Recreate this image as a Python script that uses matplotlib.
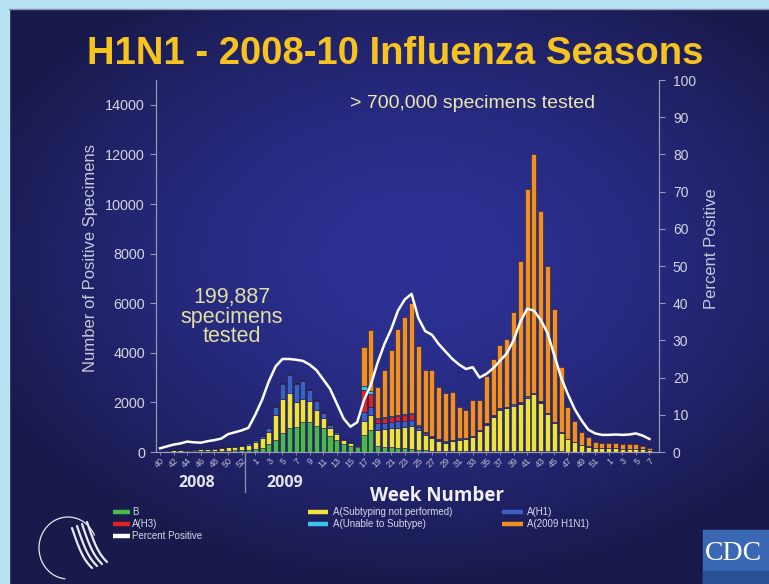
import numpy as np
import matplotlib
matplotlib.use("Agg")
import matplotlib.pyplot as plt
from matplotlib.lines import Line2D
from matplotlib.patches import Rectangle, Arc
import matplotlib.transforms as mtransforms

plt.rcParams['font.family'] = ['Liberation Sans', 'DejaVu Sans']

# ---------------- data ----------------
weeks_2008 = list(range(40, 54))
weeks_2009 = list(range(1, 53))
weeks_2010 = list(range(1, 8))
week_numbers = weeks_2008 + weeks_2009 + weeks_2010

b_vals = [15, 15, 20, 20, 25, 25, 30, 35, 40, 50, 55, 65, 75, 90, 120, 180, 330, 480, 750, 950,
          1000, 1200, 1200, 1050, 950, 650, 480, 330, 260, 200, 700, 900, 250, 220, 200, 180, 150, 130, 100, 80,
          60, 50, 40, 40, 40, 40, 40, 40, 40, 40, 40, 40, 40, 40, 40, 40, 40, 30, 30, 25,
          20, 20, 15, 15, 15, 15, 15, 15, 15, 15, 15, 10, 10]
not_subtyped_vals = [35, 45, 50, 55, 60, 70, 75, 85, 95, 110, 130, 155, 180, 210, 280, 380, 480, 1000, 1380, 1420,
                     1000, 950, 850, 650, 420, 330, 230, 140, 110, 60, 550, 600, 650, 700, 750, 800, 850, 900, 800, 600,
                     500, 400, 330, 400, 450, 480, 550, 800, 1050, 1380, 1650, 1720, 1830, 1900, 2150, 2280, 1950, 1500, 1150, 750,
                     500, 370, 250, 200, 150, 140, 130, 130, 120, 120, 110, 100, 60]
h1_vals = [10, 10, 10, 15, 15, 15, 20, 20, 25, 30, 35, 40, 45, 50, 80, 90, 140, 340, 620, 720,
           750, 710, 460, 370, 210, 120, 90, 50, 30, 20, 350, 300, 250, 250, 250, 250, 250, 250, 100, 80,
           60, 50, 40, 40, 40, 40, 40, 50, 50, 50, 50, 50, 50, 50, 50, 50, 40, 30, 30, 20,
           15, 10, 10, 10, 5, 5, 5, 5, 5, 5, 5, 0, 0]
h3_vals = [0, 0, 0, 0, 0, 0, 0, 0, 0, 0, 0, 0, 0, 10, 10, 10, 20, 30, 50, 60,
           50, 40, 40, 30, 20, 10, 10, 10, 10, 10, 900, 550, 200, 200, 220, 220, 250, 250, 50, 30,
           20, 10, 10, 10, 10, 10, 10, 10, 10, 10, 10, 10, 10, 10, 10, 10, 10, 10, 5, 5,
           5, 0, 0, 0, 0, 0, 0, 0, 0, 0, 0, 0, 0]
unable_vals = [0] * 30 + [150, 100, 30, 30, 30, 30, 30, 30, 20, 10,
                          10, 10, 5, 5, 5, 5, 5, 5, 5, 5, 5, 5, 5, 5, 5, 5, 5, 5, 5, 5,
                          0, 0, 0, 0, 0, 0, 0, 0, 0, 0, 0, 0, 0]
pdm_vals = [0] * 30 + [1600, 2470, 1250, 1900, 2660, 3490, 3910, 4440, 3200, 2500,
                       2650, 2110, 1945, 1935, 1265, 1115, 1455, 1195, 1895, 2265, 2545, 2725, 3715, 5695, 8365, 9615,
                       7665, 5935, 4540, 2605, 1260, 860, 545, 395, 250, 220, 220, 210, 200, 200, 180, 150, 80]
percent_positive = [1.0, 1.5, 2.0, 2.3, 2.8, 2.6, 2.5, 2.9, 3.2, 3.6, 4.8, 5.3, 5.8, 6.5, 10, 14, 19, 23, 25, 25,
                    24.8, 24.5, 23.5, 22, 19.5, 17, 13, 9, 6.8, 8, 14, 18, 24, 29, 33, 38, 41, 42.5, 36, 32.5,
                    31.5, 29, 27, 25, 23.5, 22.3, 22.8, 20, 21, 22.5, 24.5, 26.5, 30, 35, 38.5, 38, 35.5, 32, 26, 20,
                    15.5, 11.5, 8.5, 6, 5, 4.6, 4.6, 4.7, 4.6, 4.7, 5.0, 4.4, 3.5]

series_names = ["B", "A(Subtyping not performed)", "A(H1)", "A(H3)", "A(Unable to Subtype)", "A(2009 H1N1)"]
series_vals = [b_vals, not_subtyped_vals, h1_vals, h3_vals, unable_vals, pdm_vals]
series_colors = ["#4cb848", "#efe33a", "#3a62c4", "#dd2222", "#3cc4e6", "#f2901f"]

# ---------------- figure ----------------
W, H = 769, 584
fig = plt.figure(figsize=(W / 100, H / 100), dpi=100)

# background (slide)
bg = fig.add_axes([0, 0, 1, 1])
bg.set_axis_off()
yy, xx = np.mgrid[0:H, 0:W]
c_center = np.array([0x2d, 0x31, 0x95]) / 255.0
c_edge = np.array([0x19, 0x1a, 0x4c]) / 255.0
d = np.sqrt(((xx - 420) / 460.0) ** 2 + ((yy - 260) / 320.0) ** 2)
t = np.clip(d, 0, 1) ** 1.6
img = c_center[None, None, :] * (1 - t[..., None]) + c_edge[None, None, :] * t[..., None]
bg.imshow(img, extent=[0, W, H, 0], aspect='auto', interpolation='bilinear')
bg.set_xlim(0, W)
bg.set_ylim(H, 0)
bg.add_patch(Rectangle((0, 0), 9, H, color="#b8e3f3", zorder=3))
bg.add_patch(Rectangle((0, 0), W, 8, color="#b8e3f3", zorder=3))
bg.plot([9, W], [8.5, 8.5], color="#8c90b4", lw=1.0, zorder=3)

# HHS logo (decoration)
bg.add_patch(Arc((68, 548), 58, 62, theta1=95, theta2=335, color="#e8e8f0", lw=0.9, zorder=4))
for k in range(4):
    xs = np.linspace(0, 1, 30)
    px = 72 + k * 5 + xs * 20
    py = 528 + xs * 40 + 6 * np.sin(xs * np.pi) - k * 2
    bg.plot(px, py, color="#e8e8f0", lw=1.6, zorder=4, solid_capstyle='round')
# CDC logo (decoration)
bg.add_patch(Rectangle((703, 530), 66, 54, color="#3a68b4", zorder=4))
bg.add_patch(Rectangle((703, 571), 66, 13, color="#2a4f94", zorder=4))
bg.text(705, 553, "CDC", color="white", fontsize=20, family="Liberation Serif",
        va="center", ha="left", zorder=5)

# texts
bg.text(395, 64, "H1N1 - 2008-10 Influenza Seasons", color="#f6c31f", fontsize=27.5,
        fontweight="bold", ha="center", va="baseline")
bg.text(473, 104, "> 700,000 specimens tested", color="#ece8b2", fontsize=14,
        ha="center", va="center")
for txt, yp in [("199,887", 297), ("specimens", 317), ("tested", 336)]:
    bg.text(232, yp, txt, color="#e2e0a0", fontsize=15.5, ha="center", va="center")
bg.text(91, 258, "Number of Positive Specimens", color="#c8c8da", fontsize=12,
        rotation=90, ha="center", va="center")
bg.text(711, 249, "Percent Positive", color="#c8c8da", fontsize=12,
        rotation=90, ha="center", va="center")
bg.text(197, 483, "2008", color="#e4e4ee", fontsize=11.5, fontweight="bold",
        family="Open Sans", ha="center", va="center")
bg.text(285, 483, "2009", color="#e4e4ee", fontsize=11.5, fontweight="bold",
        family="Open Sans", ha="center", va="center")
bg.text(437, 496, "Week Number", color="#f0f0f6", fontsize=13.5, fontweight="bold",
        family="Open Sans", ha="center", va="center")

# ---------------- chart ----------------
x = np.arange(len(week_numbers))
ax = fig.add_axes([156 / W, 1 - 452 / H, (659 - 156) / W, (452 - 80) / H])
ax.patch.set_alpha(0)
bottom = np.zeros(len(x))
for name, vals, col in zip(series_names, series_vals, series_colors):
    v = np.array(vals, dtype=float)
    ax.bar(x, v, width=0.74, bottom=bottom, color=col, edgecolor="#1e1e4c",
           linewidth=0.4, label=name)
    bottom += v
ax.set_xlim(-0.6, 73.4)
ax.set_ylim(0, 15000)
ax.set_yticks(np.arange(0, 14001, 2000))
tick_pos = x[::2]
ax.set_xticks(tick_pos)
ax.set_xticklabels([str(week_numbers[i]) for i in tick_pos], rotation=45, fontsize=6.5,
                   color="#c0c0d6", ha="right", va="top", rotation_mode="anchor")
ax.tick_params(axis="x", length=2, width=0.6, color="#9090b0", pad=1)
ax.tick_params(axis="y", labelsize=10.4, labelcolor="#d4d4e0", length=4, width=0.8,
               color="#9898b8", pad=4)
ax.spines["top"].set_visible(False)
for s in ["left", "right", "bottom"]:
    ax.spines[s].set_color("#9898b8")
    ax.spines[s].set_linewidth(0.8)

# season divider
trans = mtransforms.blended_transform_factory(ax.transData, ax.transAxes)
ax.plot([12.5, 12.5], [0, -0.108], transform=trans, color="#8a8aaa", lw=1.0, clip_on=False)

ax2 = ax.twinx()
ax2.plot(x, percent_positive, color="white", lw=1.8, label="Percent Positive")
ax2.set_ylim(0, 100)
ax2.set_yticks(np.arange(0, 101, 10))
ax2.tick_params(axis="y", labelsize=10, labelcolor="#d4d4e0", length=4, width=0.8,
                color="#9898b8", pad=6)
ax2.spines["top"].set_visible(False)
for s in ["left", "right", "bottom"]:
    ax2.spines[s].set_color("#9898b8")
    ax2.spines[s].set_linewidth(0.8)

# ---------------- legend ----------------
legend_items = [
    (113, 130, 132, 512, series_colors[0], "B"),
    (113, 130, 132, 524, series_colors[3], "A(H3)"),
    (113, 130, 132, 536, "white", "Percent Positive"),
    (308, 328, 333, 512, series_colors[1], "A(Subtyping not performed)"),
    (308, 328, 333, 524, series_colors[4], "A(Unable to Subtype)"),
    (502, 523, 527, 512, series_colors[2], "A(H1)"),
    (502, 523, 527, 524, series_colors[5], "A(2009 H1N1)"),
]
for x0, x1, tx, yp, col, lab in legend_items:
    bg.add_line(Line2D([x0, x1], [yp, yp], color=col, lw=3.2, solid_capstyle="butt", zorder=4))
    bg.text(tx, yp, lab, color="#d8d8e8", fontsize=7.0, ha="left", va="center", zorder=4)

fig.savefig("out.png", dpi=100)
